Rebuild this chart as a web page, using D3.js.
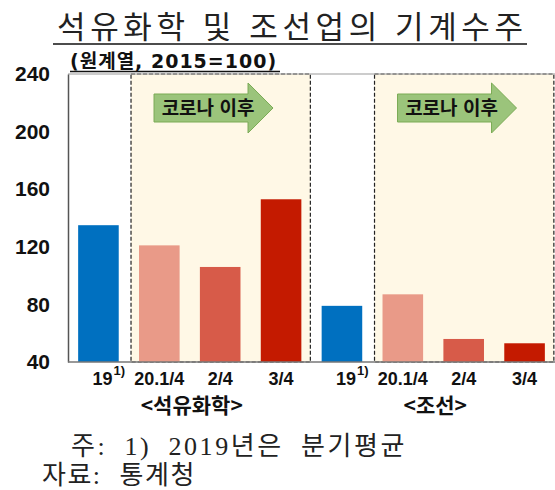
<!DOCTYPE html>
<html lang="ko">
<head>
<meta charset="UTF-8">
<title>석유화학 및 조선업의 기계수주</title>
<style>
    body { margin: 0; background: #fff; }
    svg { display: block; }
</style>
</head>
<body>
<svg id="chart"></svg>
<script src="https://cdn.jsdelivr.net/npm/d3@7/dist/d3.min.js"></script>
<script>
    const groups = ['석유화학', '조선']
    const periods = ['19', '20.1/4', '2/4', '3/4']
    const petroValues = [135, 121, 106, 153]
    const shipValues = [79, 87, 56, 53]
    const yTicks = [40, 80, 120, 160, 200, 240]
    const colors = ['#0070c0', '#e99a88', '#d75b49', '#c41a00']

    const W = 555, H = 490
    const plot = {left: 68, right: 555, top: 74, bottom: 362}
    const sans = '"Liberation Sans", Arial, "Noto Sans CJK KR", sans-serif'
    const serif = '"Liberation Serif", "Noto Sans CJK KR", serif'

    const rows = []
    groups.forEach((g, gi) => {
        const vals = gi === 0 ? petroValues : shipValues
        periods.forEach((p, pi) => rows.push({group: g, period: p, pi: pi, value: vals[pi], key: g + '|' + p}))
    })

    const svg = d3.select('#chart').attr('width', W).attr('height', H)

    const x = d3.scaleBand()
        .domain(rows.map(d => d.key))
        .range([plot.left, plot.right])
        .paddingInner(1 / 3)
        .paddingOuter(1 / 6)

    const y = d3.scaleLinear().domain([40, 240]).range([plot.bottom, plot.top])

    // title
    svg.append('text')
        .attr('x', 57).attr('y', 38)
        .attr('textLength', 466).attr('lengthAdjust', 'spacing')
        .style('font-family', '"Noto Sans CJK KR", sans-serif')
        .style('font-size', '31px')
        .style('fill', '#222')
        .text('석유화학 및 조선업의 기계수주')
    svg.append('line')
        .attr('x1', 53).attr('x2', 527).attr('y1', 44).attr('y2', 44)
        .attr('stroke', '#111').attr('stroke-width', 1.5)

    // unit label
    svg.append('text')
        .attr('x', 70).attr('y', 68)
        .style('font-family', '"DejaVu Sans", "Noto Sans CJK KR", sans-serif')
        .style('font-weight', 'bold')
        .style('font-size', '19px')
        .style('letter-spacing', '1px')
        .style('fill', '#111')
        .text('(원계열, 2015=100)')
    svg.append('line')
        .attr('x1', 70).attr('x2', 280).attr('y1', 71.5).attr('y2', 71.5)
        .attr('stroke', '#111').attr('stroke-width', 1.5)

    // after-covid boxes
    groups.forEach(g => {
        const first = x(g + '|' + periods[1])
        const last = x(g + '|' + periods[periods.length - 1]) + x.bandwidth()
        svg.append('rect')
            .attr('x', first - 8).attr('y', plot.top)
            .attr('width', last + 9 - (first - 8))
            .attr('height', plot.bottom - plot.top)
            .attr('fill', '#fff8e6')
            .attr('stroke', '#222')
            .attr('stroke-width', 1.2)
            .attr('stroke-dasharray', '4,2')

        const ax = first + 15, ay = 108
        const arrow = [[0, -14], [94, -14], [94, -25], [119, 0], [94, 25], [94, 14], [0, 14]]
        svg.append('path')
            .attr('d', d3.line()(arrow.map(p => [ax + p[0], ay + p[1]])) + 'Z')
            .attr('fill', '#9bc47b')
            .attr('stroke', '#7aab55')
            .attr('stroke-width', 1)
        svg.append('text')
            .attr('x', ax + 54).attr('y', 115)
            .attr('text-anchor', 'middle')
            .style('font-family', '"Noto Sans CJK KR", sans-serif')
            .style('font-weight', 'bold')
            .style('font-size', '19px')
            .style('fill', '#111')
            .text('코로나 이후')
    })

    // frame
    svg.append('line')
        .attr('x1', plot.left).attr('x2', plot.right).attr('y1', plot.top).attr('y2', plot.top)
        .attr('stroke', '#999').attr('stroke-width', 1.2)

    // bars
    svg.append('g').selectAll('rect').data(rows).enter().append('rect')
        .attr('x', d => x(d.key))
        .attr('y', d => y(d.value))
        .attr('width', x.bandwidth())
        .attr('height', d => y(40) - y(d.value))
        .attr('fill', d => colors[d.pi])

    // y axis
    const yAxis = svg.append('g')
        .attr('transform', `translate(${plot.left},0)`)
        .call(d3.axisLeft(y).tickValues(yTicks).tickSize(0).tickPadding(18))
    yAxis.select('.domain').attr('stroke', '#555').attr('stroke-width', 1.5)
    yAxis.selectAll('text')
        .style('font-family', sans)
        .style('font-weight', 'bold')
        .style('font-size', '21px')
        .style('fill', '#111')

    // x axis baseline
    svg.append('line')
        .attr('x1', plot.left).attr('x2', plot.right).attr('y1', plot.bottom).attr('y2', plot.bottom)
        .attr('stroke', '#777').attr('stroke-width', 1.5)

    // period labels
    const labels = svg.append('g')
        .style('font-family', sans)
        .style('font-weight', 'bold')
        .style('fill', '#111')
    rows.forEach(d => {
        const cx = x(d.key) + x.bandwidth() / 2
        if (d.pi === 0) {
            labels.append('text')
                .attr('x', cx + 4).attr('y', 385)
                .attr('text-anchor', 'middle')
                .style('font-size', '18px')
                .text(d.period)
            labels.append('text')
                .attr('x', cx + 15).attr('y', 375)
                .style('font-size', '13px')
                .text('1)')
        } else {
            labels.append('text')
                .attr('x', cx).attr('y', 385)
                .attr('text-anchor', 'middle')
                .style('font-size', '18px')
                .text(d.period)
        }
    })

    // group labels
    groups.forEach(g => {
        const a = x(g + '|' + periods[0]), b = x(g + '|' + periods[periods.length - 1]) + x.bandwidth()
        svg.append('text')
            .attr('x', (a + b) / 2 + 2).attr('y', 413)
            .attr('text-anchor', 'middle')
            .style('font-family', '"Noto Sans CJK KR", sans-serif')
            .style('font-weight', 'bold')
            .style('font-size', '21px')
            .style('fill', '#111')
            .text('<' + g + '>')
    })

    // notes
    svg.append('text')
        .attr('x', 71).attr('y', 455)
        .style('font-family', serif)
        .style('font-size', '26px')
        .style('letter-spacing', '2.6px')
        .style('word-spacing', '8px')
        .style('fill', '#222')
        .text('주: 1) 2019년은 분기평균')
    svg.append('text')
        .attr('x', 42).attr('y', 484)
        .style('font-family', serif)
        .style('font-size', '26px')
        .style('letter-spacing', '1.5px')
        .style('word-spacing', '10px')
        .style('fill', '#222')
        .text('자료: 통계청')
</script>
</body>
</html>
